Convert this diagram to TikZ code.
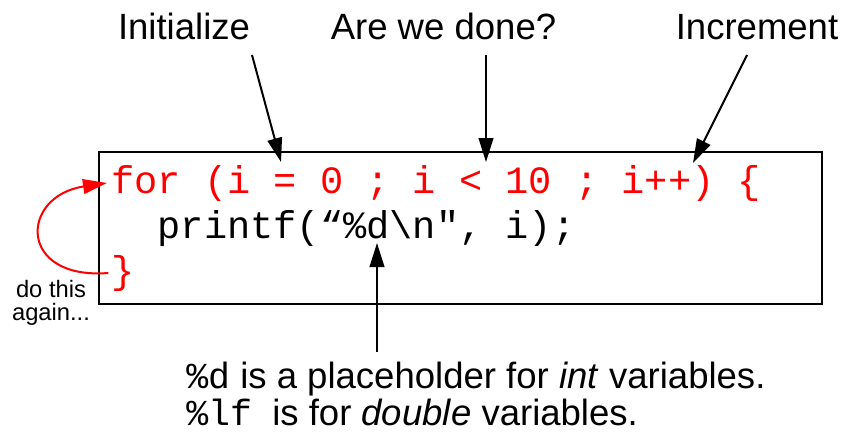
\documentclass[tikz,border=0pt]{standalone}
\usepackage{fontspec}
\setmainfont{Liberation Sans}
\setmonofont{Liberation Mono}
\usetikzlibrary{arrows.meta}
\definecolor{loopred}{HTML}{FF0000}
\tikzset{
  label text/.style={anchor=base, inner sep=0pt, font=\fontsize{27.4}{32}\selectfont},
  small text/.style={anchor=base, inner sep=0pt, font=\fontsize{17.8}{21}\selectfont},
  code line/.style={anchor=base west, inner sep=0pt, font=\ttfamily\fontsize{29}{34}\selectfont},
  pointer/.style={line width=1.5pt, -{Triangle[length=18pt,width=11pt]}},
}

\begin{document}
\begin{tikzpicture}[x=0.75pt,y=-0.75pt]
  \useasboundingbox (0,0) rectangle (843,432);
  % the code, in its frame
  \node[draw, line width=1.5pt, minimum width=542.25pt, minimum height=114pt, inner sep=0pt] (frame) at (460.5,228) {};
  \node[code line, text=loopred] (forline) at (111,193) {for (i = 0 ; i < 10 ; i++) \{};
  \node[code line] (printline) at (157.4,238) {printf(“\%d\textbackslash n", i);};
  \node[code line, text=loopred] (brace) at (111,283) {\}};
  % the three parts of the loop header
  \node[label text] (init) at (184,40) {Initialize};
  \node[label text] (done) at (443.5,40) {Are we done?};
  \node[label text] (incr) at (757,40) {Increment};
  \coordinate (initFrom) at (252,55);
  \coordinate (initTo) at (281,162);
  \coordinate (doneFrom) at (486,55);
  \coordinate (doneTo) at (486,162);
  \coordinate (incrFrom) at (747,55);
  \coordinate (incrTo) at (693,163);
  \draw[pointer] (initFrom) -- (initTo);
  \draw[pointer] (doneFrom) -- (doneTo);
  \draw[pointer] (incrFrom) -- (incrTo);
  % back to the top
  \draw[pointer, loopred] ([xshift=-2pt]brace.west) .. controls (17,280) and (20,196) .. ([xshift=-3pt]forline.west);
  \node[small text] (dothis) at (51,297) {do this};
  \node[small text] (again) at (51,320) {again...};
  % the format specifiers
  \node[label text, anchor=base west] (note1) at (186,388) {{\ttfamily\%d} is a placeholder for \textit{int} variables.};
  \node[label text, anchor=base west] (note2) at (186,425) {{\ttfamily\%lf}\ \ is for \textit{double} variables.};
  \coordinate (noteFrom) at (377,352);
  \coordinate (noteTo) at (377,243);
  \draw[pointer] (noteFrom) -- (noteTo);
\end{tikzpicture}
\end{document}
